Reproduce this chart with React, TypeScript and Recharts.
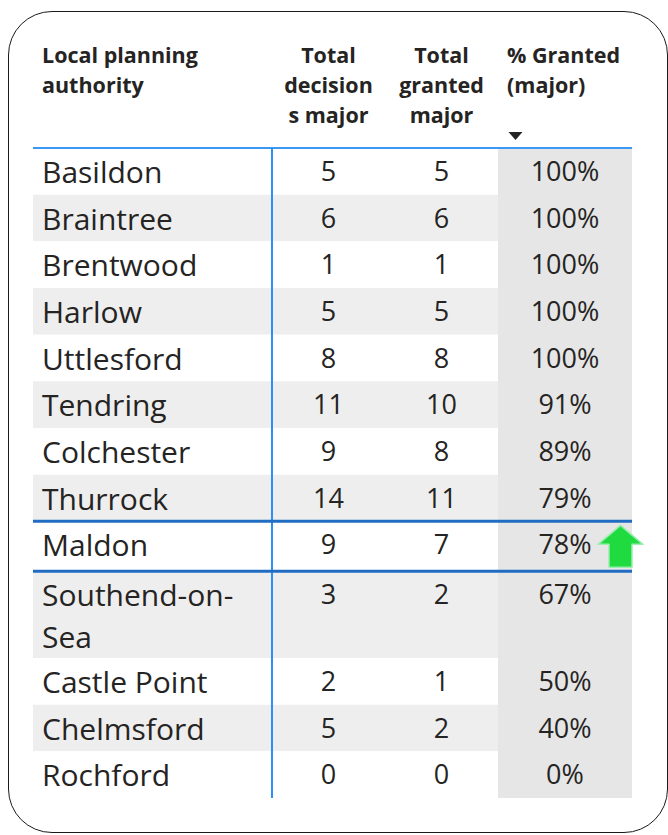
import React from 'react';
import { ComposedChart, XAxis, YAxis, Scatter, ReferenceArea, ReferenceLine } from 'recharts';

const authorities = [
  'Basildon', 'Braintree', 'Brentwood', 'Harlow', 'Uttlesford', 'Tendring', 'Colchester',
  'Thurrock', 'Maldon', 'Southend-on-Sea', 'Castle Point', 'Chelmsford', 'Rochford',
];
const decisionsMajor = [5, 6, 1, 5, 8, 11, 9, 14, 9, 3, 2, 5, 0];
const grantedMajor = [5, 6, 1, 5, 8, 10, 8, 11, 7, 2, 1, 2, 0];
const pctGranted = [100, 100, 100, 100, 100, 91, 89, 79, 78, 67, 50, 40, 0];
const headers = [
  ['Local planning', 'authority'],
  ['Total', 'decision', 's major'],
  ['Total', 'granted', 'major'],
  ['% Granted', '(major)'],
];
const selected = 'Maldon';

// layout, px
const W = 668;
const H = 835;
const LEFT = 33;
const colEdges = [0, 239, 352, 465, 599];
const X_MAX = W - LEFT;
const ROW_H = 46.67;
const LINE_H = 40;
const SEL_EXTRA = 3.3;
const HEAD_H = 118;
const FONT = "'Segoe UI', 'Open Sans', sans-serif";
const INK = '#252423';

const wrap = (s: string) => {
  const cut = s.lastIndexOf('-', 12);
  return s.length > 13 && cut > 0 ? [s.slice(0, cut + 1), s.slice(cut + 1)] : [s];
};

let acc = 0;
const rows = authorities.map((name, i) => {
  const lines = wrap(name);
  const h = ROW_H + (lines.length - 1) * LINE_H + (name === selected ? SEL_EXTRA : 0);
  const r = { name, lines, i, top: acc, bottom: acc + h };
  acc += h;
  return r;
});
const bodyH = acc;
const sel = rows.find((r) => r.name === selected)!;

const mid = (c: number) => (colEdges[c] + colEdges[c + 1]) / 2;

type Cell = { x: number; y: number; text: string; anchor: string; size: number; bold?: boolean };

const bodyCells: Cell[] = rows.flatMap((r) => [
  ...r.lines.map((t, k) => ({ x: 9, y: r.top + 35 + k * 42, text: t, anchor: 'start', size: 30 })),
  { x: mid(1), y: r.top + 33, text: String(decisionsMajor[r.i]), anchor: 'middle', size: 27 },
  { x: mid(2), y: r.top + 33, text: String(grantedMajor[r.i]), anchor: 'middle', size: 27 },
  { x: mid(3), y: r.top + 33, text: pctGranted[r.i] + '%', anchor: 'middle', size: 27 },
]);

const headCells: Cell[] = headers.flatMap((lines, c) =>
  lines.map((t, k) => ({
    x: c === 0 ? 9 : c === 3 ? colEdges[3] + 9 : mid(c),
    y: -85 + k * 30,
    text: t,
    anchor: c === 0 || c === 3 ? 'start' : 'middle',
    size: 21.5,
    bold: true,
  }))
);

const sortMark = [{ x: colEdges[3] + 17.5, y: -12 }];
const trendMark = [{ x: 587.5, y: (sel.top + sel.bottom) / 2 }];

const TextShape = (p: any) => (
  <text
    x={p.cx}
    y={p.cy}
    textAnchor={p.payload.anchor}
    fontSize={p.payload.size}
    fontWeight={p.payload.bold ? 700 : 400}
    fontFamily={FONT}
    fill={INK}
  >
    {p.payload.text}
  </text>
);

const SortShape = (p: any) => (
  <path d={`M${p.cx - 7},${p.cy - 4} L${p.cx + 7},${p.cy - 4} L${p.cx},${p.cy + 4} Z`} fill={INK} />
);

const ArrowShape = (p: any) => {
  const { cx, cy } = p;
  const d = `M${cx},${cy - 21} L${cx + 22.5},${cy - 2} L${cx + 11.5},${cy - 2} L${cx + 11.5},${cy + 21} L${cx - 11.5},${cy + 21} L${cx - 11.5},${cy - 2} L${cx - 22.5},${cy - 2} Z`;
  return <path d={d} fill="#1fdb40" stroke="#9beeb0" strokeWidth={1.5} strokeLinejoin="round" />;
};

const hLine = (y: number) => [{ x: 0, y }, { x: colEdges[4], y }];

export default function App() {
  return (
    <div style={{ position: 'absolute', left: 0, top: 0, width: W, height: H, background: '#fff' }}>
      <div
        style={{
          position: 'absolute',
          left: 8,
          top: 11,
          width: 658,
          height: 820,
          border: '1.5px solid #1a1a1a',
          borderRadius: 44,
        }}
      />
      <div style={{ position: 'absolute', left: 0, top: 0 }}>
        <ComposedChart width={W} height={H} margin={{ top: 148 - HEAD_H, right: 0, bottom: H - 148 - bodyH, left: LEFT }}>
          <XAxis type="number" dataKey="x" domain={[0, X_MAX]} allowDataOverflow hide />
          <YAxis type="number" dataKey="y" domain={[-HEAD_H, bodyH]} allowDataOverflow reversed hide />
          {rows.map((r) => (
            <ReferenceArea
              key={r.name}
              x1={0}
              x2={colEdges[3]}
              y1={r.top}
              y2={r.bottom}
              fill={r.i % 2 === 1 ? '#eeeeee' : '#ffffff'}
              fillOpacity={1}
              stroke="none"
            />
          ))}
          <ReferenceArea x1={colEdges[3]} x2={colEdges[4]} y1={0} y2={bodyH} fill="#e6e6e6" fillOpacity={1} stroke="none" />
          <ReferenceLine segment={hLine(0)} stroke="#3b99f5" strokeWidth={2} />
          <ReferenceLine segment={[{ x: colEdges[1], y: 0 }, { x: colEdges[1], y: bodyH }]} stroke="#2b8ff3" strokeWidth={2} />
          <ReferenceLine segment={hLine(sel.top)} stroke="#1f6cc2" strokeWidth={3} />
          <ReferenceLine segment={hLine(sel.bottom)} stroke="#1f6cc2" strokeWidth={3} />
          <Scatter data={headCells} shape={TextShape} isAnimationActive={false} />
          <Scatter data={bodyCells} shape={TextShape} isAnimationActive={false} />
          <Scatter data={sortMark} shape={SortShape} isAnimationActive={false} />
          <Scatter data={trendMark} shape={ArrowShape} isAnimationActive={false} />
        </ComposedChart>
      </div>
    </div>
  );
}
